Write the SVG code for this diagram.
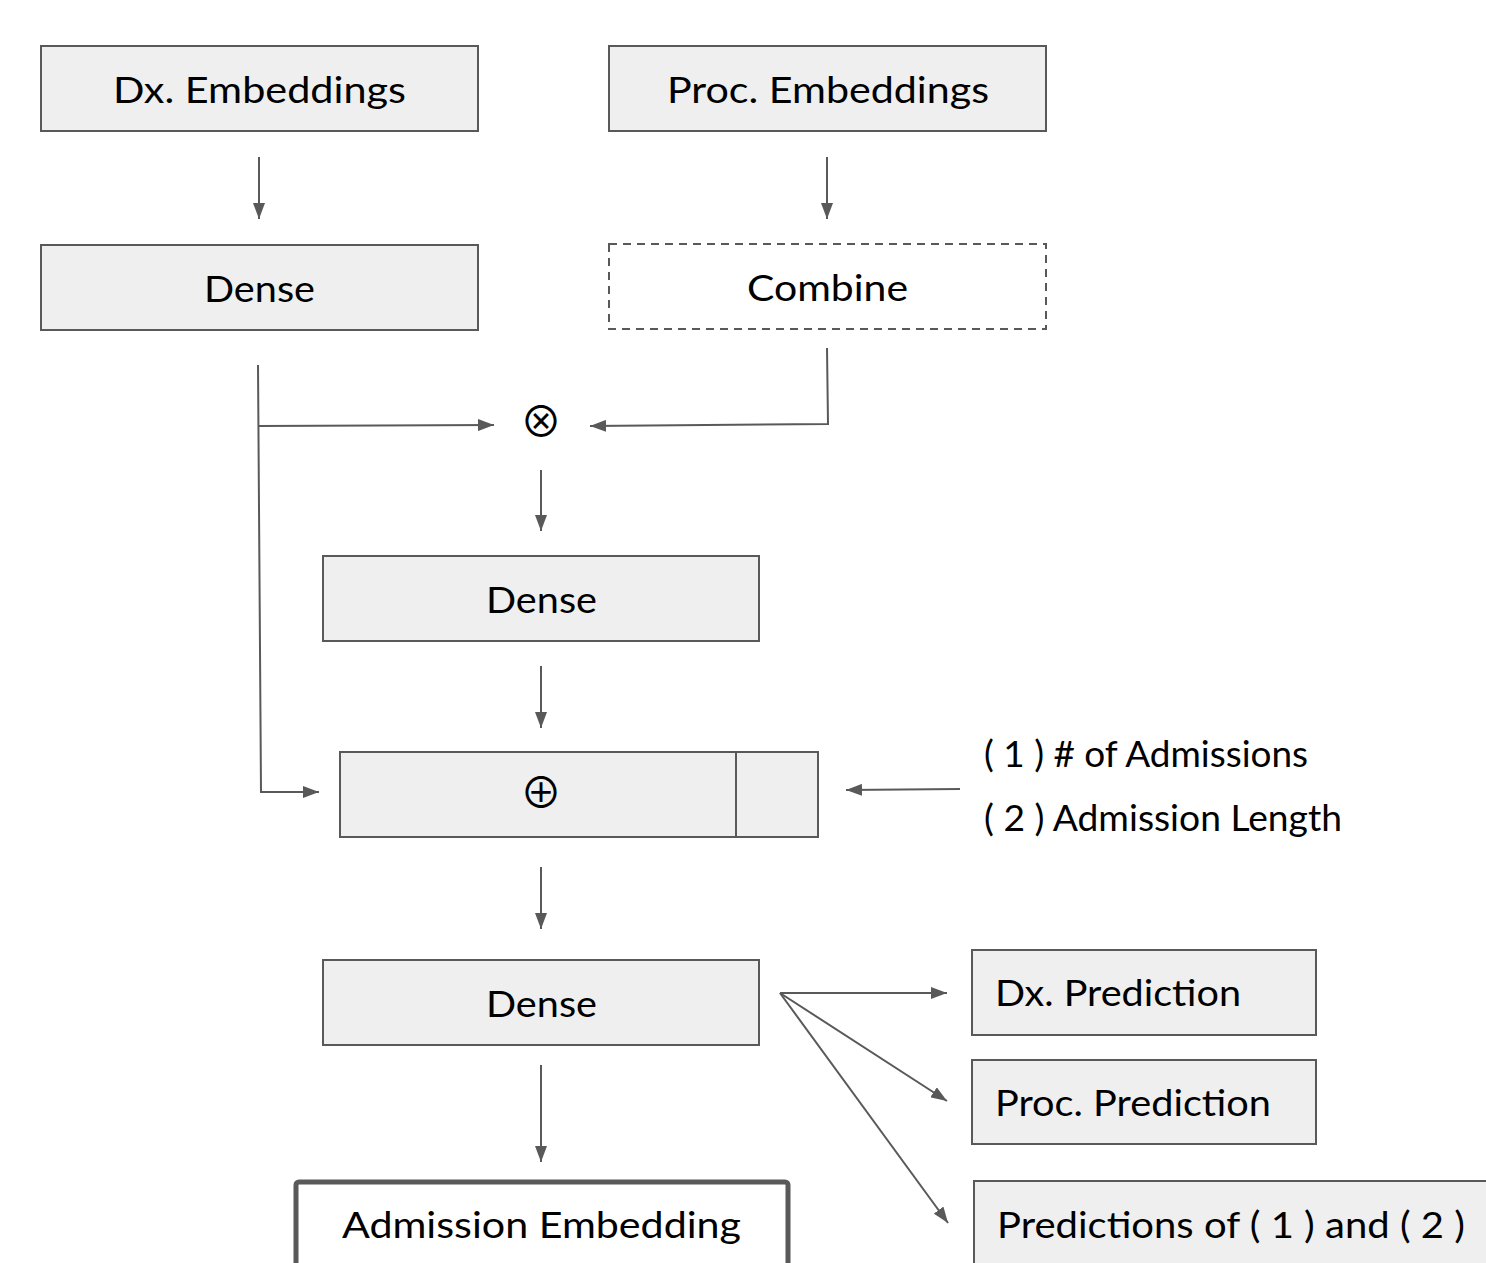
<svg xmlns="http://www.w3.org/2000/svg" width="1486" height="1263" viewBox="0 0 1486 1263">
<defs>
<style>
.box{fill:#efefef;stroke:#595959;stroke-width:2}
.dash{fill:#ffffff;stroke:#595959;stroke-width:2;stroke-dasharray:8,6}
.thick{fill:#ffffff;stroke:#595959;stroke-width:5}
.lbl{font-family:Lato,"Noto Sans",sans-serif;font-weight:400;font-size:36px;fill:#000000;text-anchor:middle}
.lft{font-family:Lato,"Noto Sans",sans-serif;font-weight:400;font-size:36px;fill:#000000}
.sym{font-family:"Noto Sans CJK JP","DejaVu Sans",sans-serif;font-size:42px;fill:#000000;text-anchor:middle}
.con{fill:none;stroke:#595959;stroke-width:2}
</style>
<marker id="ah" viewBox="0 0 16 12" refX="16" refY="6" markerWidth="8" markerHeight="6" orient="auto" markerUnits="strokeWidth">
<path d="M0,0 L16,6 L0,12 Z" fill="#595959"/>
</marker>
</defs>
<rect width="1486" height="1263" fill="#ffffff"/>
<g id="connectors">
<line class="con" x1="259" y1="157" x2="259" y2="219" marker-end="url(#ah)"/>
<line class="con" x1="827" y1="157" x2="827" y2="219" marker-end="url(#ah)"/>
<polyline class="con" points="258,365 261,792 319,792" marker-end="url(#ah)"/>
<polyline class="con" points="259,426 494,425" marker-end="url(#ah)"/>
<polyline class="con" points="827,348 828,424 590,426" marker-end="url(#ah)"/>
<line class="con" x1="541" y1="470" x2="541" y2="531" marker-end="url(#ah)"/>
<line class="con" x1="541" y1="666" x2="541" y2="728" marker-end="url(#ah)"/>
<line class="con" x1="960" y1="789" x2="846" y2="790" marker-end="url(#ah)"/>
<line class="con" x1="541" y1="867" x2="541" y2="929" marker-end="url(#ah)"/>
<line class="con" x1="541" y1="1065" x2="541" y2="1162" marker-end="url(#ah)"/>
<line class="con" x1="780" y1="993" x2="947" y2="993" marker-end="url(#ah)"/>
<line class="con" x1="780" y1="993" x2="947" y2="1101" marker-end="url(#ah)"/>
<line class="con" x1="780" y1="993" x2="948" y2="1223" marker-end="url(#ah)"/>
</g>
<g id="dx-emb"><rect class="box" x="41" y="46" width="437" height="85"/><text class="lbl" x="259.5" y="103" textLength="293" lengthAdjust="spacingAndGlyphs">Dx. Embeddings</text></g>
<g id="proc-emb"><rect class="box" x="609" y="46" width="437" height="85"/><text class="lbl" x="828" y="103" textLength="322" lengthAdjust="spacingAndGlyphs">Proc. Embeddings</text></g>
<g id="dense1"><rect class="box" x="41" y="245" width="437" height="85"/><text class="lbl" x="259.5" y="302" textLength="111" lengthAdjust="spacingAndGlyphs">Dense</text></g>
<g id="combine"><rect class="dash" x="609" y="244" width="437" height="85"/><text class="lbl" x="827.5" y="301" textLength="161" lengthAdjust="spacingAndGlyphs">Combine</text></g>
<g id="otimes"><text class="sym" x="541" y="437">⊗</text></g>
<g id="dense2"><rect class="box" x="323" y="556" width="436" height="85"/><text class="lbl" x="541.5" y="613" textLength="111" lengthAdjust="spacingAndGlyphs">Dense</text></g>
<g id="concat"><rect class="box" x="340" y="752" width="478" height="85"/><line class="con" x1="736" y1="752" x2="736" y2="837"/><text class="sym" x="541" y="808">⊕</text></g>
<g id="features"><text class="lft" x="984" y="767" textLength="324" lengthAdjust="spacingAndGlyphs">( 1 ) # of Admissions</text><text class="lft" x="984" y="831" textLength="358" lengthAdjust="spacingAndGlyphs">( 2 ) Admission Length</text></g>
<g id="dense3"><rect class="box" x="323" y="960" width="436" height="85"/><text class="lbl" x="541.5" y="1017" textLength="111" lengthAdjust="spacingAndGlyphs">Dense</text></g>
<g id="adm-emb"><rect class="thick" x="296" y="1182" width="492" height="100" rx="3"/><text class="lbl" x="541.5" y="1238" textLength="399" lengthAdjust="spacingAndGlyphs">Admission Embedding</text></g>
<g id="dx-pred"><rect class="box" x="972" y="950" width="344" height="85"/><text class="lft" x="995" y="1006" textLength="246" lengthAdjust="spacingAndGlyphs">Dx. Prediction</text></g>
<g id="proc-pred"><rect class="box" x="972" y="1060" width="344" height="84"/><text class="lft" x="995" y="1116" textLength="276" lengthAdjust="spacingAndGlyphs">Proc. Prediction</text></g>
<g id="pred12"><rect class="box" x="974" y="1181" width="530" height="100"/><text class="lft" x="997" y="1238" textLength="468" lengthAdjust="spacingAndGlyphs">Predictions of ( 1 ) and ( 2 )</text></g>
</svg>
